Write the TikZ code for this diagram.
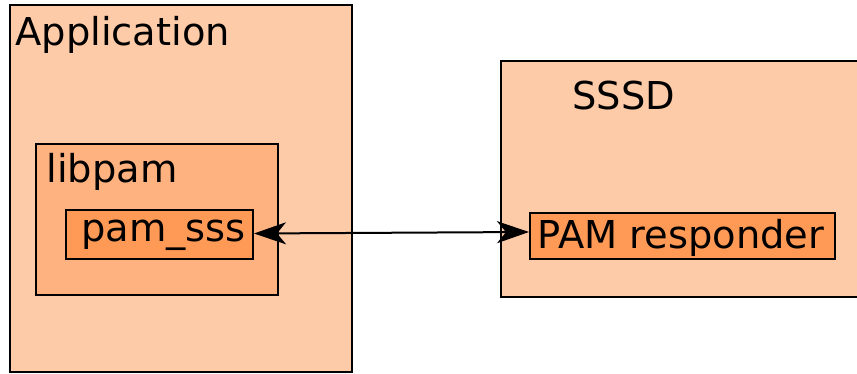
\documentclass[tikz,border=0pt]{standalone}
\usepackage{fontspec}
\setmainfont{DejaVu Sans}
\usetikzlibrary{arrows.meta,fit}

\definecolor{appfill}{RGB}{254,203,168}
\definecolor{libfill}{RGB}{254,178,128}
\definecolor{modfill}{RGB}{254,153,86}

\tikzset{
  box/.style={draw,line width=1pt,inner sep=0pt},
  title/.style={inner sep=0pt,anchor=base west,font=\fontsize{19.2pt}{23pt}\selectfont},
  >={Stealth[length=16pt,width=11pt,inset=4.5pt]},
}

\begin{document}
\begin{tikzpicture}[x=0.5pt,y=-0.5pt]
  \useasboundingbox (0,0) rectangle (857,374);

  % client side
  \node[box,fill=appfill,fit={(10,5) (352,372)}] (app) {};
  \node[title] (apptext) at (15,46) {Application};
  \node[box,fill=libfill,fit={(36,144) (278,295)}] (libpam) {};
  \node[title] (libtext) at (46,183) {libpam};
  \node[box,fill=modfill,fit={(66,210) (253,259)}] (pamsss) {};
  \node[title] (modtext) at (81,242) {pam\_sss};

  % daemon side
  \node[box,fill=appfill,fit={(501,61) (880,297)}] (sssd) {};
  \node[title] (sssdtext) at (572,110) {SSSD};
  \node[box,fill=modfill,fit={(530,213) (835,259)}] (resp) {};
  \node[title] (resptext) at (537,248) {PAM responder};

  \draw[line width=1pt,<->] ([yshift=0.5pt]pamsss.east) -- ([yshift=2pt]resp.west);
\end{tikzpicture}
\end{document}
